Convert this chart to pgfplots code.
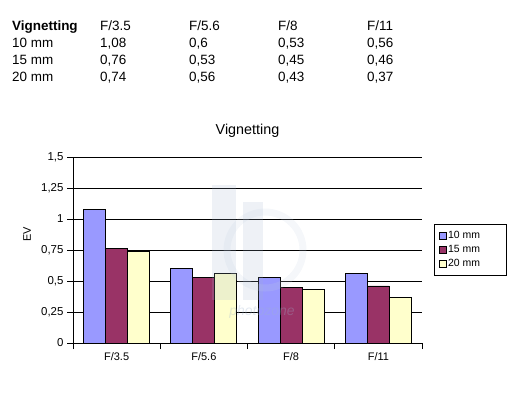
\documentclass[border=0pt]{standalone}
\usepackage{fontspec}
\setmainfont{Liberation Sans}
\usepackage{pgfplots}
\pgfplotsset{compat=1.18}
\definecolor{c10}{HTML}{9999FF}
\definecolor{c15}{HTML}{993366}
\definecolor{c20}{HTML}{FFFFCC}
\definecolor{wm}{HTML}{9FB3CF}
\pgfplotsset{sqlegend/.style={legend image code/.code={\draw[##1, line width=0.6bp] (0bp,-3.5bp) rectangle (7bp,3.5bp);}}}
\begin{document}
\begin{tikzpicture}[x=1bp,y=1bp]
\path (0,0) rectangle (513,-393);
% data table at top
\begin{scope}[every node/.style={anchor=base west, inner sep=0pt, font=\fontsize{13.5}{16}\selectfont}]
\node at (12,-30.5) {\textbf{Vignetting}};
\node at (100,-30.5) {F/3.5};
\node at (189,-30.5) {F/5.6};
\node at (278,-30.5) {F/8};
\node at (367,-30.5) {F/11};
\node at (12,-47.5) {10 mm};
\node at (100,-47.5) {1,08};
\node at (189,-47.5) {0,6};
\node at (278,-47.5) {0,53};
\node at (367,-47.5) {0,56};
\node at (12,-64.5) {15 mm};
\node at (100,-64.5) {0,76};
\node at (189,-64.5) {0,53};
\node at (278,-64.5) {0,45};
\node at (367,-64.5) {0,46};
\node at (12,-81.5) {20 mm};
\node at (100,-81.5) {0,74};
\node at (189,-81.5) {0,56};
\node at (278,-81.5) {0,43};
\node at (367,-81.5) {0,37};
\end{scope}
\node[anchor=base, inner sep=0pt, font=\fontsize{14.4}{16}\selectfont] at (247.5,-134) {Vignetting};
\node[rotate=90, inner sep=0pt, font=\fontsize{11}{12}\selectfont] at (27,-234.5) {EV};
\begin{axis}[
  at={(73bp,-343bp)}, anchor=south west,
  scale only axis, width=349bp, height=186bp,
  xmin=-0.5, xmax=3.5, ymin=0, ymax=1.5,
  axis x line*=bottom, axis y line*=left,
  axis line style={line width=0.9bp, -},
  ybar=0pt, bar width=22bp,
  xtick={0,1,2,3}, xticklabels={F/3.5,F/5.6,F/8,F/11},
  minor xtick={-0.5,0.5,1.5,2.5,3.5},
  major x tick style={draw=none},
  minor x tick style={black, line width=0.9bp},
  ytick={0,0.25,0.5,0.75,1,1.25,1.5},
  yticklabels={0,{0,25},{0,5},{0,75},1,{1,25},{1,5}},
  tick align=outside, major tick length=6bp, minor tick length=6bp,
  tick style={black, line width=0.9bp},
  ymajorgrids, grid style={black, line width=0.9bp},
  yticklabel style={font=\fontsize{11.5}{13}\selectfont},
  xticklabel style={font=\fontsize{11}{13}\selectfont},
  legend style={at={(1.0344,0.5)}, anchor=west, draw=black, line width=0.9bp,
    font=\fontsize{10.5}{12}\selectfont, inner xsep=5bp, inner ysep=6bp,
    row sep=1.8bp, nodes={inner sep=1bp, text height=7.5bp, text depth=2.5bp}},
  legend cell align=left,
]
\addplot[fill=c10, draw=black, line width=0.8bp, sqlegend]
  coordinates {(0,1.08) (1,0.6) (2,0.53) (3,0.56)};
\addlegendentry{\makebox[52bp][l]{10 mm}}
\addplot[fill=c15, draw=black, line width=0.8bp, sqlegend]
  coordinates {(0,0.76) (1,0.53) (2,0.45) (3,0.46)};
\addlegendentry{\makebox[52bp][l]{15 mm}}
\addplot[fill=c20, draw=black, line width=0.8bp, sqlegend]
  coordinates {(0,0.74) (1,0.56) (2,0.43) (3,0.37)};
\addlegendentry{\makebox[52bp][l]{20 mm}}
\end{axis}
% faint watermark
\begin{scope}[opacity=0.18]
\fill[wm] (212,-185) rectangle (236,-300);
\fill[wm] (243,-202) rectangle (263,-300);
\draw[wm!60, line width=7bp] (265,-250) circle (38);
\end{scope}
\node[opacity=0.3, text=wm, font=\fontsize{14}{16}\selectfont\itshape] at (262,-312) {photozone};
\end{tikzpicture}
\end{document}
